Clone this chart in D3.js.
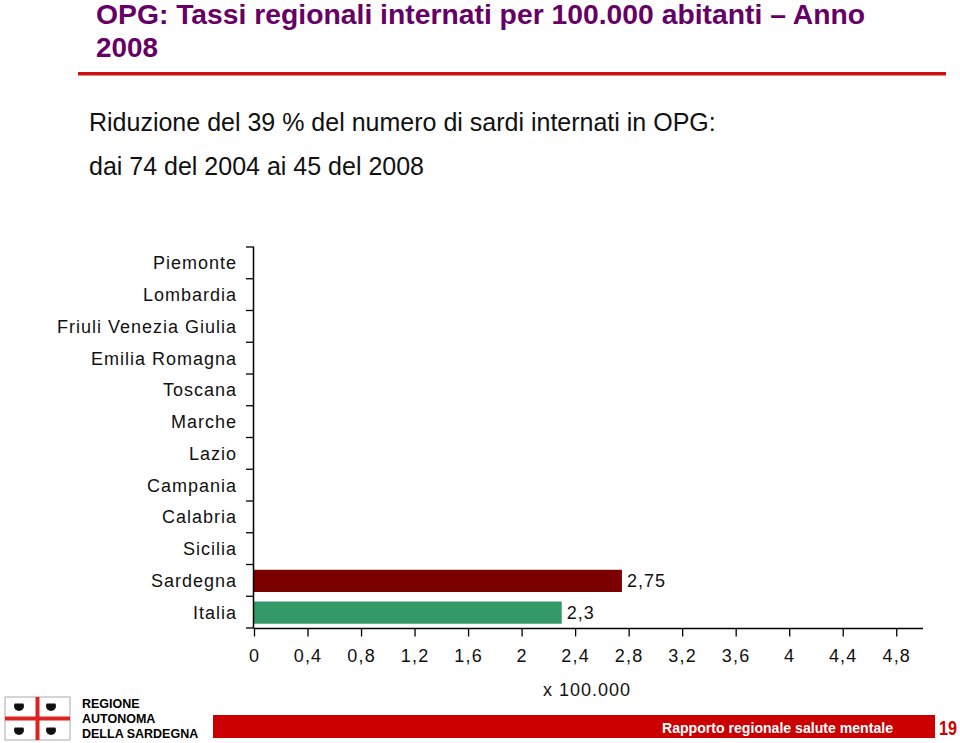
<!DOCTYPE html>
<html><head><meta charset="utf-8">
<script src="https://cdn.jsdelivr.net/npm/d3@7"></script>
<style>
body{margin:0;background:#fff;}
svg{display:block;font-family:"Liberation Sans",Arial,Helvetica,sans-serif;}
</style></head>
<body>
<svg id="chart" width="960" height="743"></svg>
<script>
const categories = ["Piemonte","Lombardia","Friuli Venezia Giulia","Emilia Romagna","Toscana","Marche","Lazio","Campania","Calabria","Sicilia","Sardegna","Italia"];
const values = [null,null,null,null,null,null,null,null,null,null,2.75,2.3];
const barColors = ["#7b0000","#7b0000","#7b0000","#7b0000","#7b0000","#7b0000","#7b0000","#7b0000","#7b0000","#7b0000","#7b0000","#339966"];
const valueLabels = ["","","","","","","","","","","2,75","2,3"];
const xTicks = [0,0.4,0.8,1.2,1.6,2,2.4,2.8,3.2,3.6,4,4.4,4.8];
const xDomain = [0,5];

const svg = d3.select("#chart");

// Title
svg.append("text").attr("x",96).attr("y",24).attr("fill","#660066")
  .attr("font-size",28).attr("font-weight","bold").attr("textLength",769).attr("lengthAdjust","spacingAndGlyphs")
  .text("OPG: Tassi regionali internati per 100.000 abitanti \u2013 Anno");
svg.append("text").attr("x",96).attr("y",57).attr("fill","#660066")
  .attr("font-size",28).attr("font-weight","bold").attr("textLength",62).attr("lengthAdjust","spacingAndGlyphs")
  .text("2008");
svg.append("rect").attr("x",78).attr("y",72).attr("width",868).attr("height",3.5).attr("fill","#cc1111");

// Subtitle
svg.append("text").attr("x",89).attr("y",131).attr("fill","#111").attr("font-size",25)
  .text("Riduzione del 39 % del numero di sardi internati in OPG:");
svg.append("text").attr("x",89).attr("y",175).attr("fill","#111").attr("font-size",25)
  .text("dai 74 del 2004 ai 45 del 2008");

// Chart
const x = d3.scaleLinear().domain(xDomain).range([254,923]);
const y = d3.scaleBand().domain(categories).range([247,628]).paddingInner(0.3).paddingOuter(0.15);

const g = svg.append("g");
const rows = categories.map((c,i)=>({c,v:values[i],col:barColors[i],lab:valueLabels[i]})).filter(d=>d.v!=null);
g.selectAll("rect.bar").data(rows)
  .enter().append("rect").attr("class","bar")
  .attr("x",x(0)).attr("y",d=>y(d.c)+0.5).attr("width",d=>x(d.v)-x(0)).attr("height",y.bandwidth())
  .attr("fill",d=>d.col);
g.selectAll("text.val").data(rows)
  .enter().append("text").attr("class","val")
  .attr("x",d=>x(d.v)+5).attr("y",d=>y(d.c)+y.bandwidth()/2+7)
  .attr("font-size",18).attr("letter-spacing",1).attr("fill","#111").text(d=>d.lab);

// y axis
const yAxisG = g.append("g");
yAxisG.append("line").attr("x1",253.5).attr("x2",253.5).attr("y1",247).attr("y2",628).attr("stroke","#000").attr("stroke-width",1.5);
const boundaries = d3.range(categories.length+1).map(i=>247+i*(381/categories.length));
yAxisG.selectAll("line.yt").data(boundaries).enter().append("line").attr("class","yt")
  .attr("x1",246).attr("x2",254).attr("y1",d=>d).attr("y2",d=>d).attr("stroke","#000").attr("stroke-width",1.3);
yAxisG.selectAll("text.cat").data(categories).enter().append("text").attr("class","cat")
  .attr("x",237).attr("y",d=>y(d)+y.bandwidth()/2+6.5).attr("text-anchor","end")
  .attr("font-size",18).attr("letter-spacing",1).attr("fill","#111").text(d=>d);

// x axis
const xAxis = d3.axisBottom(x).tickValues(xTicks).tickSize(8).tickPadding(13)
  .tickFormat(d=>d3.format("~g")(d).replace(".",","));
const xg = g.append("g").attr("transform","translate(0,628.5)").call(xAxis);
xg.select(".domain").attr("d","M254,0H923").attr("stroke","#000").attr("stroke-width",1.5);
xg.selectAll(".tick line").attr("stroke","#000").attr("stroke-width",1.3);
xg.selectAll(".tick text").attr("font-size",18).attr("letter-spacing",1.2).attr("fill","#111").attr("font-family","Liberation Sans, Arial, sans-serif");
svg.append("text").attr("x",587).attr("y",696).attr("text-anchor","middle").attr("font-size",18).attr("letter-spacing",1).attr("fill","#111").text("x 100.000");

// Footer
const logo = svg.append("g").attr("transform","translate(5,697)");
logo.append("rect").attr("x",0).attr("y",0).attr("width",65).attr("height",43).attr("fill","#fff").attr("stroke","#aaa").attr("stroke-width",1);
logo.append("rect").attr("x",0).attr("y",19.5).attr("width",65).attr("height",4).attr("fill","#d22");
logo.append("rect").attr("x",30.5).attr("y",0).attr("width",4).attr("height",43).attr("fill","#d22");
[[14,9],[46,9],[14,33],[46,33]].forEach(p=>{
  logo.append("ellipse").attr("cx",p[0]).attr("cy",p[1]).attr("rx",5).attr("ry",5).attr("fill","#111");
  logo.append("rect").attr("x",p[0]-6).attr("y",p[1]-5).attr("width",12).attr("height",2.5).attr("fill","#fff");
});
const ft = svg.append("g").attr("font-size",12.5).attr("font-weight","bold").attr("fill","#000");
ft.append("text").attr("x",82).attr("y",708).text("REGIONE");
ft.append("text").attr("x",82).attr("y",723).text("AUTONOMA");
ft.append("text").attr("x",82).attr("y",738).text("DELLA SARDEGNA");
svg.append("rect").attr("x",213).attr("y",715).attr("width",722).attr("height",23).attr("fill","#cc0000");
svg.append("text").attr("x",662).attr("y",733).attr("font-size",15.5).attr("font-weight","bold").attr("fill","#fff")
  .attr("textLength",231).attr("lengthAdjust","spacingAndGlyphs").text("Rapporto regionale salute mentale");
svg.append("text").attr("x",939).attr("y",735).attr("font-size",20).attr("font-weight","bold").attr("fill","#cc0000")
  .attr("textLength",18).attr("lengthAdjust","spacingAndGlyphs").text("19");
</script>
</body></html>
